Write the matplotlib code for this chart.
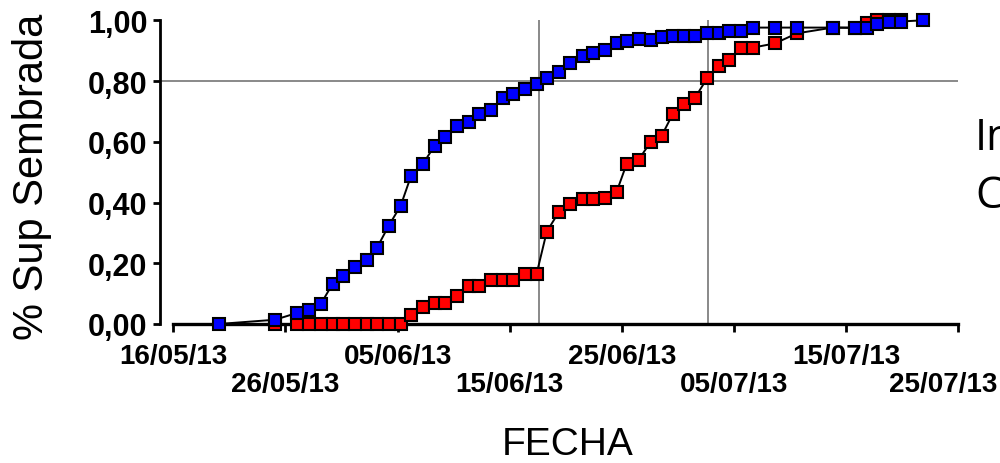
import matplotlib
matplotlib.use('Agg')
import matplotlib.pyplot as plt

# dias desde el 16/05/13
dias_azul = [4.05, 9.07, 11.0, 12.1, 13.17, 14.2, 15.1, 16.2, 17.27, 18.16,
             19.2, 20.28, 21.2, 22.27, 23.3, 24.2, 25.27, 26.34, 27.26, 28.3,
             29.37, 30.3, 31.36, 32.4, 33.3, 34.4, 35.4, 36.5, 37.45, 38.5,
             39.54, 40.43, 41.5, 42.57, 43.55, 44.53, 45.57, 46.52, 47.62, 48.63,
             49.55, 50.6, 51.67, 53.66, 55.6, 58.8, 60.8, 61.86, 62.78, 63.8,
             64.87, 66.83]
sup_azul = [0.0, 0.014, 0.036, 0.047, 0.067, 0.132, 0.159, 0.187, 0.212, 0.251,
            0.323, 0.390, 0.488, 0.528, 0.587, 0.615, 0.653, 0.666, 0.692, 0.706,
            0.745, 0.758, 0.773, 0.790, 0.810, 0.831, 0.858, 0.883, 0.891, 0.903,
            0.924, 0.931, 0.937, 0.936, 0.944, 0.949, 0.949, 0.949, 0.957, 0.957,
            0.964, 0.964, 0.976, 0.976, 0.976, 0.976, 0.975, 0.975, 0.988, 0.996,
            0.996, 1.0]

dias_rojo = dias_azul[1:51]
sup_rojo = [0.0, 0.0, 0.0, 0.0, 0.0, 0.0, 0.0, 0.0, 0.0, 0.0,
            0.0, 0.030, 0.055, 0.068, 0.068, 0.093, 0.126, 0.126, 0.146, 0.146,
            0.146, 0.166, 0.166, 0.304, 0.370, 0.396, 0.411, 0.411, 0.416, 0.436,
            0.528, 0.541, 0.600, 0.620, 0.691, 0.725, 0.745, 0.810, 0.851, 0.870,
            0.910, 0.910, 0.924, 0.957, 0.976, 0.976, 0.990, 1.0, 1.0, 1.0]

# fechas en que cada curva llega al 80%
dia_80 = [32.6, 47.7]

tick_dias = [0, 10, 20, 30, 40, 50, 60, 70]
tick_fechas = ['16/05/13', '26/05/13', '05/06/13', '15/06/13',
               '25/06/13', '05/07/13', '15/07/13', '25/07/13']
y_ticks = [0.0, 0.2, 0.4, 0.6, 0.8, 1.0]
y_etiquetas = ['0,00', '0,20', '0,40', '0,60', '0,80', '1,00']

plt.rcParams['font.family'] = ['Liberation Sans', 'DejaVu Sans']

fig = plt.figure(figsize=(10, 4.64), dpi=100)
ax = fig.add_axes([0.16, 0.2996, 0.7983, 0.6545])

ax.axhline(0.8, color='#808080', lw=1.3, zorder=1)
for d in dia_80:
    ax.axvline(d, color='#808080', lw=1.3, zorder=1)

ax.plot(dias_rojo, sup_rojo, color='black', lw=1.4, marker='s', ms=8,
        mfc='#ff0000', mec='black', mew=1.5, clip_on=False, zorder=3)
ax.plot(dias_azul, sup_azul, color='black', lw=1.4, marker='s', ms=8,
        mfc='#0000ff', mec='black', mew=1.5, clip_on=False, zorder=4)

ax.set_xlim(-1.19, 70)
ax.set_ylim(0, 1.0)

ax.spines['top'].set_visible(False)
ax.spines['right'].set_visible(False)
ax.spines['left'].set_linewidth(2.0)
ax.spines['bottom'].set_linewidth(2.4)
ax.spines['bottom'].set_bounds(0, 70)

# etiquetas alternadas en dos filas; la ultima va aparte, corrida a la izquierda
ax.set_xticks(tick_dias)
etiquetas = [t if i % 2 == 0 else '\n' + t for i, t in enumerate(tick_fechas)]
etiquetas[-1] = ''
ax.set_xticklabels(etiquetas, fontsize=20, fontweight='bold')
for lab in ax.get_xticklabels():
    lab.set_linespacing(1.1)
ax.annotate(tick_fechas[-1], xy=(tick_dias[-1], 0), xycoords=('data', 'axes fraction'),
            xytext=(-15, -47), textcoords='offset pixels', ha='center', va='top',
            fontsize=20, fontweight='bold', annotation_clip=False)

ax.set_yticks(y_ticks)
ax.set_yticklabels(y_etiquetas, fontsize=22, fontweight='bold')
ax.tick_params(axis='x', direction='out', length=6, width=2, pad=8)
ax.tick_params(axis='y', direction='out', length=5, width=2, pad=4)

fig.text(0.568, 1 - 445 / 464, 'FECHA', fontsize=28, ha='center', va='center')
fig.text(0.012, 1 - 177 / 464, '% Sup Sembrada', fontsize=30, rotation=90,
         ha='left', va='center')

fig.text(0.975, 1 - 150 / 464, 'In', fontsize=31, family='Open Sans',
         ha='left', va='baseline')
fig.text(0.975, 1 - 208 / 464, 'C', fontsize=31, family='Open Sans',
         ha='left', va='baseline')

fig.savefig('out.png', dpi=100)
